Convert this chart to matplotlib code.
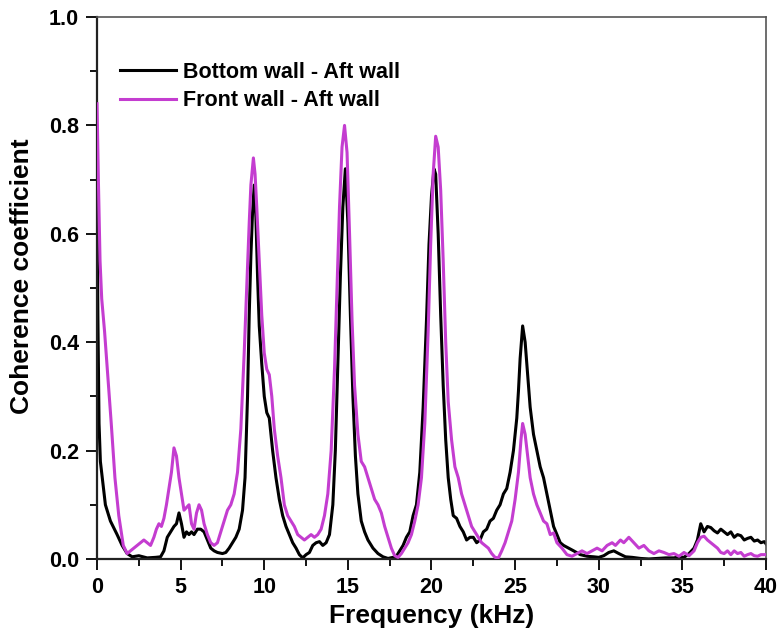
import matplotlib
matplotlib.use("Agg")
import matplotlib.pyplot as plt
from matplotlib.ticker import MultipleLocator

plt.rcParams['font.family'] = ['Liberation Sans', 'DejaVu Sans']
plt.rcParams['font.weight'] = 'bold'

# Coherence between wall pressure signals: (frequency in kHz, coherence)
bottom_aft = [
    (0.0, 0.68), (0.05, 0.45), (0.12, 0.25), (0.2, 0.18), (0.35, 0.14), (0.5, 0.1),
    (0.8, 0.07), (1.2, 0.045), (1.5, 0.025), (1.8, 0.01), (2.1, 0.004), (2.5, 0.006),
    (3.0, 0.002), (3.5, 0.003), (3.8, 0.004), (4.0, 0.015), (4.2, 0.04), (4.4, 0.05),
    (4.6, 0.06), (4.75, 0.065), (4.9, 0.085), (5.05, 0.065), (5.2, 0.04), (5.35, 0.05),
    (5.5, 0.045), (5.65, 0.05), (5.8, 0.045), (6.0, 0.055), (6.2, 0.055), (6.4, 0.05),
    (6.6, 0.035), (6.8, 0.02), (7.0, 0.015), (7.2, 0.012), (7.5, 0.01), (7.7, 0.012),
    (7.9, 0.02), (8.1, 0.03), (8.3, 0.04), (8.5, 0.055), (8.7, 0.09), (8.85, 0.15),
    (9.0, 0.3), (9.1, 0.45), (9.2, 0.56), (9.3, 0.64), (9.4, 0.69), (9.5, 0.63),
    (9.6, 0.52), (9.7, 0.43), (9.85, 0.36), (10.0, 0.3), (10.15, 0.27), (10.3, 0.26),
    (10.5, 0.2), (10.7, 0.15), (10.9, 0.11), (11.1, 0.08), (11.3, 0.06), (11.5, 0.045),
    (11.7, 0.03), (11.9, 0.02), (12.1, 0.008), (12.3, 0.002), (12.5, 0.008), (12.7, 0.012),
    (12.9, 0.025), (13.1, 0.03), (13.3, 0.032), (13.5, 0.025), (13.7, 0.03), (13.9, 0.045),
    (14.1, 0.1), (14.25, 0.2), (14.4, 0.36), (14.55, 0.52), (14.7, 0.65), (14.85, 0.72),
    (15.0, 0.62), (15.15, 0.45), (15.3, 0.3), (15.45, 0.19), (15.6, 0.12), (15.8, 0.07),
    (16.0, 0.05), (16.2, 0.035), (16.5, 0.02), (16.8, 0.01), (17.1, 0.004), (17.4, 0.001),
    (17.7, 0.003), (17.9, 0.005), (18.1, 0.015), (18.3, 0.025), (18.5, 0.04), (18.7, 0.05),
    (18.9, 0.08), (19.1, 0.1), (19.3, 0.16), (19.5, 0.28), (19.7, 0.44), (19.85, 0.58),
    (20.0, 0.67), (20.15, 0.72), (20.25, 0.71), (20.4, 0.6), (20.55, 0.45), (20.7, 0.32),
    (20.85, 0.22), (21.0, 0.15), (21.15, 0.11), (21.3, 0.08), (21.5, 0.075), (21.7, 0.06),
    (21.9, 0.05), (22.1, 0.035), (22.3, 0.04), (22.5, 0.04), (22.7, 0.03), (22.9, 0.035),
    (23.1, 0.05), (23.3, 0.055), (23.5, 0.07), (23.7, 0.075), (23.9, 0.09), (24.1, 0.1),
    (24.3, 0.12), (24.5, 0.13), (24.7, 0.16), (24.9, 0.2), (25.1, 0.26), (25.2, 0.31),
    (25.3, 0.37), (25.45, 0.43), (25.6, 0.4), (25.75, 0.34), (25.9, 0.28), (26.1, 0.23),
    (26.3, 0.2), (26.5, 0.17), (26.7, 0.15), (26.9, 0.12), (27.1, 0.09), (27.3, 0.06),
    (27.5, 0.045), (27.7, 0.03), (27.9, 0.025), (28.2, 0.02), (28.5, 0.015), (28.9, 0.008),
    (29.3, 0.005), (29.7, 0.004), (30.0, 0.003), (30.3, 0.006), (30.6, 0.012), (30.9, 0.015),
    (31.2, 0.01), (31.6, 0.004), (32.0, 0.003), (32.5, 0.001), (33.0, 0.0), (33.5, 0.001),
    (34.0, 0.002), (34.5, 0.002), (34.8, 0.004), (35.1, 0.003), (35.4, 0.01), (35.7, 0.02),
    (35.9, 0.035), (36.1, 0.065), (36.3, 0.05), (36.5, 0.06), (36.7, 0.058), (36.9, 0.052),
    (37.1, 0.048), (37.3, 0.055), (37.5, 0.05), (37.7, 0.045), (37.9, 0.05), (38.1, 0.04),
    (38.3, 0.045), (38.5, 0.043), (38.7, 0.035), (38.9, 0.038), (39.1, 0.04), (39.3, 0.033),
    (39.5, 0.035), (39.7, 0.03), (39.9, 0.032), (40.0, 0.028),
]

front_aft = [
    (0.0, 0.84), (0.08, 0.7), (0.18, 0.55), (0.28, 0.48), (0.45, 0.42), (0.66, 0.33),
    (0.85, 0.25), (1.07, 0.15), (1.3, 0.08), (1.57, 0.025), (1.8, 0.01), (2.0, 0.015),
    (2.2, 0.02), (2.4, 0.025), (2.6, 0.03), (2.8, 0.035), (3.0, 0.03), (3.2, 0.025),
    (3.4, 0.04), (3.55, 0.055), (3.7, 0.065), (3.85, 0.06), (4.0, 0.075), (4.15, 0.1),
    (4.3, 0.13), (4.45, 0.16), (4.6, 0.205), (4.75, 0.19), (4.9, 0.15), (5.05, 0.12),
    (5.2, 0.09), (5.35, 0.095), (5.5, 0.1), (5.65, 0.065), (5.8, 0.055), (5.95, 0.085),
    (6.1, 0.1), (6.25, 0.09), (6.4, 0.065), (6.6, 0.045), (6.8, 0.03), (7.0, 0.025),
    (7.2, 0.03), (7.4, 0.05), (7.6, 0.07), (7.8, 0.09), (8.0, 0.1), (8.2, 0.12),
    (8.4, 0.16), (8.6, 0.24), (8.8, 0.38), (8.95, 0.5), (9.1, 0.62), (9.2, 0.69),
    (9.35, 0.74), (9.45, 0.71), (9.55, 0.65), (9.7, 0.55), (9.85, 0.45), (10.0, 0.38),
    (10.15, 0.35), (10.3, 0.34), (10.45, 0.3), (10.6, 0.24), (10.8, 0.19), (11.0, 0.15),
    (11.2, 0.1), (11.4, 0.08), (11.6, 0.07), (11.8, 0.06), (12.0, 0.045), (12.2, 0.04),
    (12.4, 0.035), (12.6, 0.04), (12.8, 0.045), (13.0, 0.04), (13.2, 0.045), (13.4, 0.055),
    (13.6, 0.08), (13.8, 0.12), (14.0, 0.2), (14.2, 0.35), (14.35, 0.5), (14.5, 0.65),
    (14.65, 0.76), (14.8, 0.8), (14.95, 0.75), (15.1, 0.6), (15.25, 0.44), (15.4, 0.32),
    (15.6, 0.23), (15.8, 0.18), (16.0, 0.17), (16.2, 0.15), (16.4, 0.13), (16.6, 0.11),
    (16.8, 0.1), (17.0, 0.085), (17.2, 0.06), (17.4, 0.04), (17.6, 0.02), (17.8, 0.006),
    (18.0, 0.003), (18.2, 0.01), (18.4, 0.02), (18.6, 0.03), (18.8, 0.045), (19.0, 0.07),
    (19.2, 0.1), (19.4, 0.15), (19.6, 0.25), (19.8, 0.42), (19.95, 0.58), (20.1, 0.71),
    (20.25, 0.78), (20.4, 0.76), (20.55, 0.68), (20.7, 0.55), (20.85, 0.4), (21.0, 0.29),
    (21.2, 0.22), (21.4, 0.17), (21.6, 0.15), (21.8, 0.12), (22.0, 0.1), (22.2, 0.08),
    (22.4, 0.06), (22.6, 0.05), (22.8, 0.04), (23.0, 0.03), (23.2, 0.025), (23.4, 0.02),
    (23.6, 0.01), (23.8, 0.003), (24.0, 0.002), (24.2, 0.015), (24.4, 0.03), (24.6, 0.05),
    (24.8, 0.07), (25.0, 0.11), (25.2, 0.16), (25.35, 0.22), (25.45, 0.25), (25.6, 0.23),
    (25.75, 0.19), (25.9, 0.15), (26.1, 0.12), (26.3, 0.1), (26.5, 0.085), (26.7, 0.07),
    (26.9, 0.065), (27.1, 0.045), (27.3, 0.048), (27.5, 0.03), (27.8, 0.02), (28.1, 0.008),
    (28.4, 0.005), (28.7, 0.01), (29.0, 0.015), (29.3, 0.01), (29.6, 0.015), (29.9, 0.02),
    (30.2, 0.015), (30.5, 0.025), (30.8, 0.03), (31.0, 0.025), (31.3, 0.035), (31.5, 0.03),
    (31.8, 0.04), (32.1, 0.03), (32.4, 0.02), (32.7, 0.025), (33.0, 0.015), (33.3, 0.01),
    (33.6, 0.015), (33.9, 0.012), (34.2, 0.008), (34.5, 0.01), (34.8, 0.005), (35.1, 0.012),
    (35.4, 0.006), (35.7, 0.015), (35.9, 0.03), (36.1, 0.04), (36.3, 0.042), (36.5, 0.035),
    (36.7, 0.03), (36.9, 0.025), (37.1, 0.02), (37.3, 0.012), (37.5, 0.01), (37.7, 0.015),
    (37.9, 0.008), (38.1, 0.015), (38.3, 0.01), (38.5, 0.012), (38.7, 0.005), (38.9, 0.008),
    (39.1, 0.01), (39.3, 0.006), (39.5, 0.005), (39.7, 0.008), (40.0, 0.008),
]

freq_bottom = [p[0] for p in bottom_aft]
coh_bottom = [p[1] for p in bottom_aft]
freq_front = [p[0] for p in front_aft]
coh_front = [p[1] for p in front_aft]

fig = plt.figure(figsize=(7.8, 6.4), dpi=100)
ax = fig.add_axes([0.1244, 0.1266, 0.8576, 0.8468])

ax.plot(freq_bottom, coh_bottom, color='black', lw=2.2, label='Bottom wall - Aft wall',
        zorder=2, solid_joinstyle='round')
ax.plot(freq_front, coh_front, color='#c43dd0', lw=2.2, label='Front wall - Aft wall',
        zorder=3, solid_joinstyle='round')

ax.set_xlim(0, 40)
ax.set_ylim(0, 1.0)
ax.xaxis.set_major_locator(MultipleLocator(5))
ax.xaxis.set_minor_locator(MultipleLocator(2.5))
ax.yaxis.set_minor_locator(MultipleLocator(0.1))
ax.set_yticks([0.0, 0.2, 0.4, 0.6, 0.8, 1.0])
ax.set_yticklabels(['0.0', '0.2', '0.4', '0.6', '0.8', '1.0'])

ax.tick_params(which='both', direction='out', top=False, right=False, width=1.3,
               labelsize=15.5)
ax.tick_params(which='major', length=8, pad=5)
ax.tick_params(which='minor', length=5)
for lab in ax.get_xticklabels() + ax.get_yticklabels():
    lab.set_fontweight('bold')

for side in ['left', 'bottom']:
    ax.spines[side].set_linewidth(1.6)
    ax.spines[side].set_color('#222222')
for side in ['top', 'right']:
    ax.spines[side].set_linewidth(1.2)
    ax.spines[side].set_color('#555555')

ax.set_xlabel('Frequency (kHz)', fontsize=19, fontweight='bold')
ax.set_ylabel('Coherence coefficient', fontsize=19, fontweight='bold')
ax.xaxis.set_label_coords(0.5, -0.084)
ax.yaxis.set_label_coords(-0.094, 0.522)

leg = ax.legend(loc='upper left', bbox_to_anchor=(0.005, 0.953), frameon=False,
                prop={'size': 15.5, 'weight': 'bold'}, handlelength=2.6,
                handletextpad=0.35, labelspacing=0.35)

fig.savefig('out.png', dpi=100, facecolor='white')
